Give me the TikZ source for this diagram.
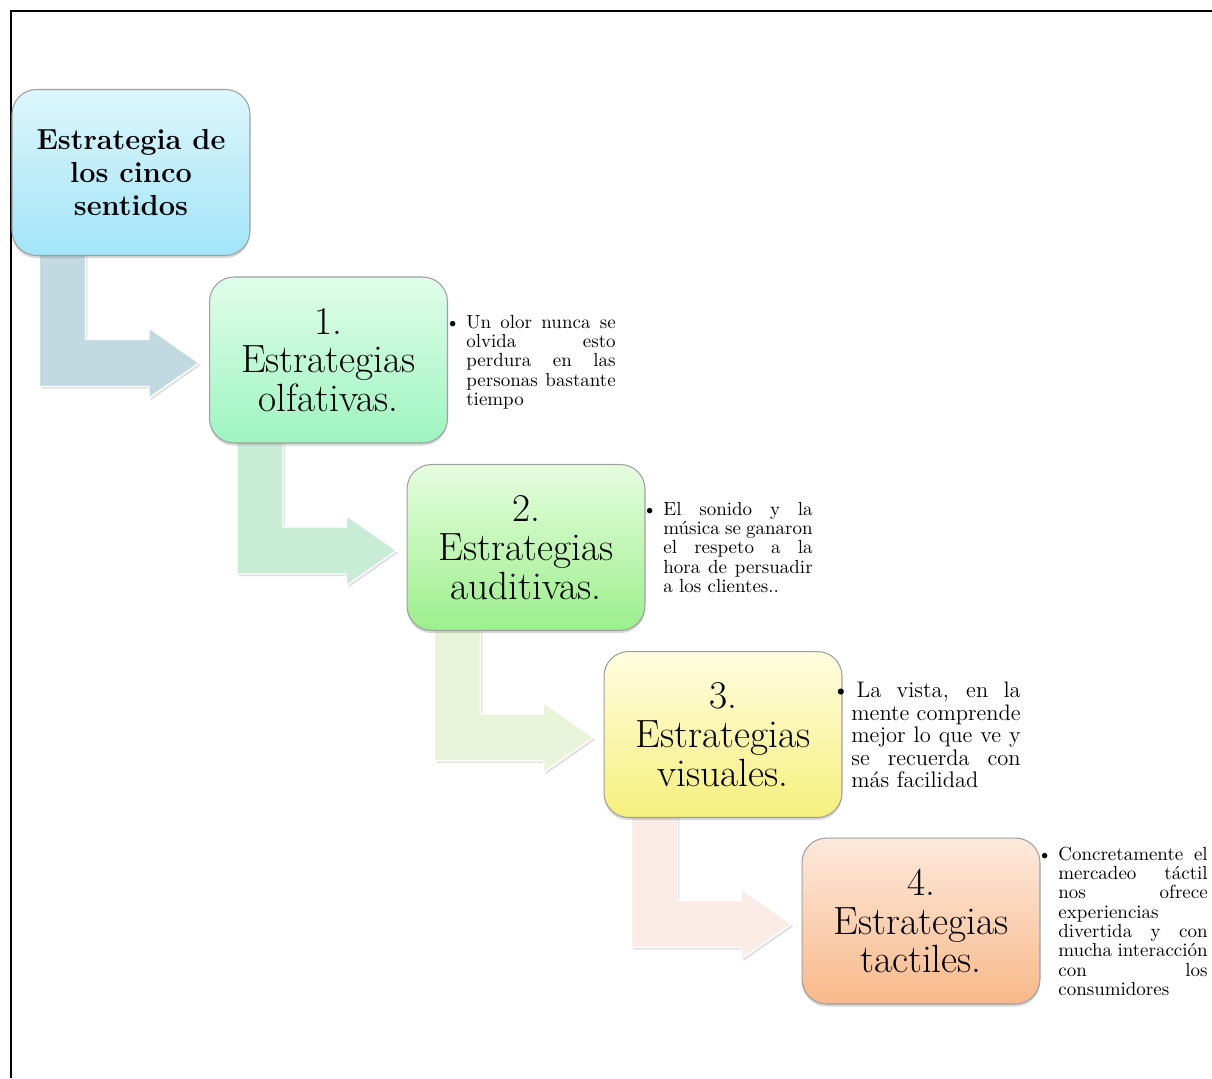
\documentclass[tikz,border=0pt]{standalone}
\usepackage{tikz}
\usetikzlibrary{calc,positioning,shadows,backgrounds}

\definecolor{azulA}{HTML}{DDF6FC}
\definecolor{azulB}{HTML}{A2E5F8}
\definecolor{verdeA}{HTML}{E0FDE9}
\definecolor{verdeB}{HTML}{9EF5C0}
\definecolor{limaA}{HTML}{E6FDDF}
\definecolor{limaB}{HTML}{9CEF8C}
\definecolor{amariA}{HTML}{FFFDE0}
\definecolor{amariB}{HTML}{F6F07C}
\definecolor{naranA}{HTML}{FDE9DC}
\definecolor{naranB}{HTML}{F8B98A}
\definecolor{flechaA}{HTML}{C1D9E1}
\definecolor{flechaB}{HTML}{C9ECD7}
\definecolor{flechaC}{HTML}{E9F5DA}
\definecolor{flechaD}{HTML}{FBECE6}

% linea justificada de una nota
\newcommand{\jl}[1]{\makebox[\hsize][s]{\spaceskip=0pt\xspaceskip=0pt #1}\\}
% flecha doblada desde debajo de una caja hasta la siguiente
\newcommand{\flecha}[3]{%
  \coordinate (s) at ($(#1.south west)+(28,-6)$);
  \coordinate (t) at ($(#2.west)+(-10,3)$);
  \path[fill=#3, draw=white, line width=0.8pt,
        drop shadow={opacity=0.25, shadow xshift=1pt, shadow yshift=-1.2pt}]
    (s) -- ++(46,0) -- ($(s |- t)+(46,-23.5)$) -- ($(t)+(-50,-23.5)$)
    -- ($(t)+(-50,-35)$) -- (t) -- ($(t)+(-50,35)$) -- ($(t)+(-50,23.5)$)
    -- ($(s |- t)+(0,23.5)$) -- cycle;}

\tikzset{
  sentido/.style={rounded corners=14pt, draw=gray!75, line width=0.6pt,
    minimum width=4.76cm, minimum height=3.32cm, align=center,
    font=\fontsize{22.4}{22}\selectfont,
    drop shadow={opacity=0.3, shadow xshift=0pt, shadow yshift=-1.5pt}},
  nota/.style={anchor=north west, inner sep=0pt, align=left,
    execute at begin node={\parindent=0pt},
    font=\fontsize{10.8}{11}\selectfont}
}

\begin{document}
\begin{tikzpicture}[x=0.02cm, y=-0.02cm]
  \useasboundingbox (0,0) rectangle (1212,1078);
  \draw[line width=1.6pt] (11,1078) -- (11,11) -- (1212,11);

  % cajas
  \node[sentido, top color=azulA, bottom color=azulB,
        font=\fontsize{16.5}{18.7}\selectfont\bfseries] (b0) at (131,172.5)
        {Estrategia de\\los cinco\\sentidos};
  \node[sentido, top color=verdeA, bottom color=verdeB] (b1) at (328.5,360)
        {1.\\Estrategias\\olfativas.};
  \node[sentido, top color=limaA, bottom color=limaB] (b2) at (526,547.5)
        {2.\\Estrategias\\auditivas.};
  \node[sentido, top color=amariA, bottom color=amariB] (b3) at (723,734.5)
        {3.\\Estrategias\\visuales.};
  \node[sentido, top color=naranA, bottom color=naranB] (b4) at (921,921)
        {4.\\Estrategias\\tactiles.};

  % flechas (debajo de las cajas)
  \begin{scope}[on background layer]
    \flecha{b0}{b1}{flechaA}
    \flecha{b1}{b2}{flechaB}
    \flecha{b2}{b3}{flechaC}
    \flecha{b3}{b4}{flechaD}
  \end{scope}

  % notas
  \node[nota, text width=85pt] (n1) at (466,314.5)
    {\jl{\llap{\textbullet\hspace{3.5pt}}Un olor nunca se}\jl{olvida esto}%
     \jl{perdura en las}\jl{personas bastante}tiempo};
  \node[nota, text width=85pt] (n2) at (663,501.5)
    {\jl{\llap{\textbullet\hspace{3.5pt}}El sonido y la}\jl{música se ganaron}%
     \jl{el respeto a la}\jl{hora de persuadir}a los clientes..};
  \node[nota, text width=96.4pt, font=\fontsize{12.8}{12.8}\selectfont] (n3) at (851,682)
    {\jl{\llap{\textbullet\hspace{1pt}}\hspace{3pt}La vista, en la}\jl{mente comprende}%
     \jl{mejor lo que ve y}\jl{se recuerda con}más facilidad};
  \node[nota, text width=85pt] (n4) at (1058,846.5)
    {\jl{\llap{\textbullet\hspace{3.5pt}}Concretamente el}\jl{mercadeo táctil}%
     \jl{nos ofrece}experiencias\\\jl{divertida y con}\jl{mucha interacción}%
     \jl{con los}consumidores};
\end{tikzpicture}
\end{document}
